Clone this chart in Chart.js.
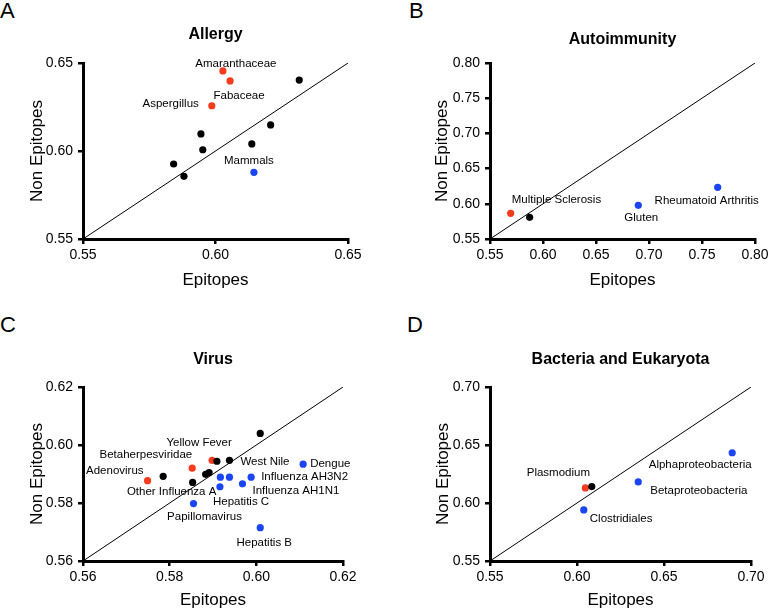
<!DOCTYPE html>
<html>
<head>
<meta charset="utf-8">
<script src="https://cdn.jsdelivr.net/npm/chart.js@4.4.0/dist/chart.umd.min.js"></script>
<style>
  body { margin: 0; background: #fff; width: 769px; height: 610px; position: relative; overflow: hidden;
         font-family: "Liberation Sans", Arial, sans-serif; }
  .panel { position: absolute; height: 305px; }
  .letter { position: absolute; font-size: 22px; line-height: 22px; color: #000; }
</style>
</head>
<body>
<div class="letter" style="left:0;top:0">A</div>
<div class="letter" style="left:409px;top:0">B</div>
<div class="letter" style="left:0;top:314px">C</div>
<div class="letter" style="left:407px;top:314px">D</div>

<div class="panel" style="left:0;top:0;width:384px"><canvas id="allergy"></canvas></div>
<div class="panel" style="left:384px;top:0;width:385px"><canvas id="autoimmunity"></canvas></div>
<div class="panel" style="left:0;top:305px;width:384px"><canvas id="virus"></canvas></div>
<div class="panel" style="left:384px;top:305px;width:385px"><canvas id="bacteria"></canvas></div>

<script>
// group: 'high' = red, 'low' = blue, 'ns' = black

// A - Allergy
const allergyNames = ['Amaranthaceae', 'Fabaceae', 'Aspergillus', '', '', '', '', '', '', '', 'Mammals'];
const allergyEpitopes = [0.6028, 0.6055, 0.5986, 0.6316, 0.6208, 0.6137, 0.5945, 0.5952, 0.5842, 0.5881, 0.6145];
const allergyNonEpitopes = [0.6455, 0.6398, 0.6257, 0.6403, 0.6148, 0.6040, 0.6097, 0.6007, 0.5926, 0.5856, 0.5879];
const allergyGroups = ['high', 'high', 'high', 'ns', 'ns', 'ns', 'ns', 'ns', 'ns', 'ns', 'low'];
const allergyTicks = [0.55, 0.60, 0.65];

// B - Autoimmunity
const autoNames = ['Multiple Sclerosis', '', 'Gluten', 'Rheumatoid Arthritis'];
const autoEpitopes = [0.5695, 0.5874, 0.6899, 0.7648];
const autoNonEpitopes = [0.5865, 0.5808, 0.5979, 0.6234];
const autoGroups = ['high', 'ns', 'low', 'low'];
const autoTicks = [0.55, 0.60, 0.65, 0.70, 0.75, 0.80];

// C - Virus
const virusNames = ['Adenovirus', '', 'Betaherpesviridae', 'Other Influenza A', 'Yellow Fever', '', 'West Nile', '', '', '',
                    '', '', 'Influenza AH3N2', 'Hepatitis C', 'Influenza AH1N1', 'Dengue', 'Papillomavirus', 'Hepatitis B'];
const virusEpitopes = [0.5749, 0.5785, 0.5852, 0.5853, 0.5898, 0.5909, 0.5938, 0.5883, 0.5891, 0.6009,
                       0.5917, 0.5938, 0.5988, 0.5916, 0.5968, 0.6108, 0.5855, 0.6009];
const virusNonEpitopes = [0.5877, 0.5892, 0.5920, 0.5871, 0.5947, 0.5944, 0.5947, 0.5899, 0.5905, 0.6040,
                          0.5889, 0.5889, 0.5889, 0.5856, 0.5866, 0.5934, 0.5798, 0.5715];
const virusGroups = ['high', 'ns', 'high', 'ns', 'high', 'ns', 'ns', 'ns', 'ns', 'ns',
                     'low', 'low', 'low', 'low', 'low', 'low', 'low', 'low'];
const virusTicks = [0.56, 0.58, 0.60, 0.62];

// D - Bacteria and Eukaryota
const bactNames = ['Plasmodium', '', 'Clostridiales', 'Betaproteobacteria', 'Alphaproteobacteria'];
const bactEpitopes = [0.6048, 0.6085, 0.6039, 0.6352, 0.6892];
const bactNonEpitopes = [0.6130, 0.6142, 0.5940, 0.6182, 0.6433];
const bactGroups = ['high', 'ns', 'low', 'low', 'low'];
const bactTicks = [0.55, 0.60, 0.65, 0.70];

const groupColors = { ns: '#000000', high: '#f43b1d', low: '#1b45f2' };

// where each name sits relative to its dot (px)
const labelOffsets = {
  'Amaranthaceae': { dx: 13, dy: -7, align: 'center' },
  'Fabaceae': { dx: 9, dy: 15, align: 'center' },
  'Aspergillus': { dx: -13, dy: -2, align: 'right' },
  'Mammals': { dx: -5, dy: -11, align: 'center' },
  'Multiple Sclerosis': { dx: 1, dy: -13, align: 'left' },
  'Gluten': { dx: 3, dy: 13, align: 'center' },
  'Rheumatoid Arthritis': { dx: -11, dy: 14, align: 'center' },
  'Adenovirus': { dx: -4, dy: -10, align: 'right' },
  'Betaherpesviridae': { dx: 0, dy: -13, align: 'right' },
  'Other Influenza A': { dx: -21, dy: 9, align: 'center' },
  'Yellow Fever': { dx: -13, dy: -18, align: 'center' },
  'West Nile': { dx: 11, dy: 1, align: 'left' },
  'Influenza AH3N2': { dx: 10, dy: 0, align: 'left' },
  'Hepatitis C': { dx: -7, dy: 15, align: 'left' },
  'Influenza AH1N1': { dx: 10, dy: 7, align: 'left' },
  'Dengue': { dx: 7, dy: 0, align: 'left' },
  'Papillomavirus': { dx: 11, dy: 13, align: 'center' },
  'Hepatitis B': { dx: 4, dy: 15, align: 'center' },
  'Plasmodium': { dx: -27, dy: -15, align: 'center' },
  'Clostridiales': { dx: 6, dy: 9, align: 'left' },
  'Betaproteobacteria': { dx: 12, dy: 9, align: 'left' },
  'Alphaproteobacteria': { dx: -32, dy: 12, align: 'center' }
};

const FONT = '"Liberation Sans", Arial, sans-serif';

const pointLabels = {
  id: 'pointLabels',
  afterDatasetsDraw(chart, args, opts) {
    const ctx = chart.ctx;
    const xs = chart.scales.x, ys = chart.scales.y;
    ctx.save();
    ctx.font = '11.5px ' + FONT;
    ctx.fillStyle = '#000';
    ctx.textBaseline = 'middle';
    opts.names.forEach((name, i) => {
      if (!name) return;
      const o = labelOffsets[name];
      ctx.textAlign = o.align;
      ctx.fillText(name, xs.getPixelForValue(opts.xv[i]) + o.dx, ys.getPixelForValue(opts.yv[i]) + o.dy);
    });
    ctx.restore();
  }
};

function makePanel(id, width, title, names, xv, yv, groups, ticks, area, titleY, yTitleX, xTitleY) {
  const lo = ticks[0], hi = ticks[ticks.length - 1];
  const datasets = ['ns', 'high', 'low'].map(g => ({
    type: 'scatter',
    data: xv.map((x, i) => ({ x: x, y: yv[i] })).filter((p, i) => groups[i] === g),
    backgroundColor: groupColors[g],
    borderWidth: 0,
    pointRadius: 3.6
  }));
  datasets.push({
    type: 'line',
    data: [{ x: lo, y: lo }, { x: hi, y: hi }],
    borderColor: '#000',
    borderWidth: 1,
    pointRadius: 0,
    fill: false
  });

  const canvas = document.getElementById(id);
  canvas.width = width;
  canvas.height = 305;

  const axisCommon = {
    type: 'linear',
    min: lo,
    max: hi,
    afterBuildTicks: s => { s.ticks = ticks.map(v => ({ value: v })); },
    grid: { drawOnChartArea: false, drawTicks: true, tickLength: 5, color: '#000', lineWidth: 2.5 },
    border: { display: true, color: '#000', width: 3 }
  };

  new Chart(canvas, {
    data: { datasets: datasets },
    options: {
      responsive: false,
      animation: false,
      layout: { padding: { top: 0, left: 0, bottom: 0, right: width - area.right } },
      plugins: {
        legend: { display: false },
        tooltip: { enabled: false },
        title: {
          display: true,
          fullSize: false,
          text: title,
          color: '#000',
          font: { family: FONT, size: 16, weight: 'bold' },
          padding: { top: titleY - 9.6, bottom: area.top - titleY - 9.6 }
        },
        pointLabels: { names: names, xv: xv, yv: yv }
      },
      scales: {
        x: Object.assign({}, axisCommon, {
          position: 'bottom',
          ticks: { color: '#000', padding: 3, maxRotation: 0, font: { family: FONT, size: 14 },
                   callback: v => v.toFixed(2) },
          title: { display: true, text: 'Epitopes', color: '#000', font: { family: FONT, size: 17 },
                   padding: { top: 0, bottom: 305 - xTitleY - 10.2 } },
          afterFit: s => { s.height = 305 - area.bottom; s.paddingLeft = 0; s.paddingRight = 0; }
        }),
        y: Object.assign({}, axisCommon, {
          position: 'left',
          ticks: { color: '#000', padding: 5, font: { family: FONT, size: 14 },
                   callback: v => v.toFixed(2) },
          title: { display: true, text: 'Non Epitopes', color: '#000', font: { family: FONT, size: 17 },
                   padding: { top: yTitleX - 10.2, bottom: 0 } },
          afterFit: s => { s.width = area.left; s.paddingTop = 0; s.paddingBottom = 0; }
        })
      }
    },
    plugins: [pointLabels]
  });
}

makePanel('allergy', 384, 'Allergy', allergyNames, allergyEpitopes, allergyNonEpitopes, allergyGroups, allergyTicks,
          { left: 83, top: 63, right: 348, bottom: 239 }, 35, 37.5, 280);
makePanel('autoimmunity', 385, 'Autoimmunity', autoNames, autoEpitopes, autoNonEpitopes, autoGroups, autoTicks,
          { left: 106, top: 63, right: 371, bottom: 239 }, 40, 58, 280);
makePanel('virus', 384, 'Virus', virusNames, virusEpitopes, virusNonEpitopes, virusGroups, virusTicks,
          { left: 83, top: 82, right: 343, bottom: 256 }, 55, 37, 295);
makePanel('bacteria', 385, 'Bacteria and Eukaryota', bactNames, bactEpitopes, bactNonEpitopes, bactGroups, bactTicks,
          { left: 106, top: 82, right: 367, bottom: 256 }, 55, 59, 295);
</script>
</body>
</html>
